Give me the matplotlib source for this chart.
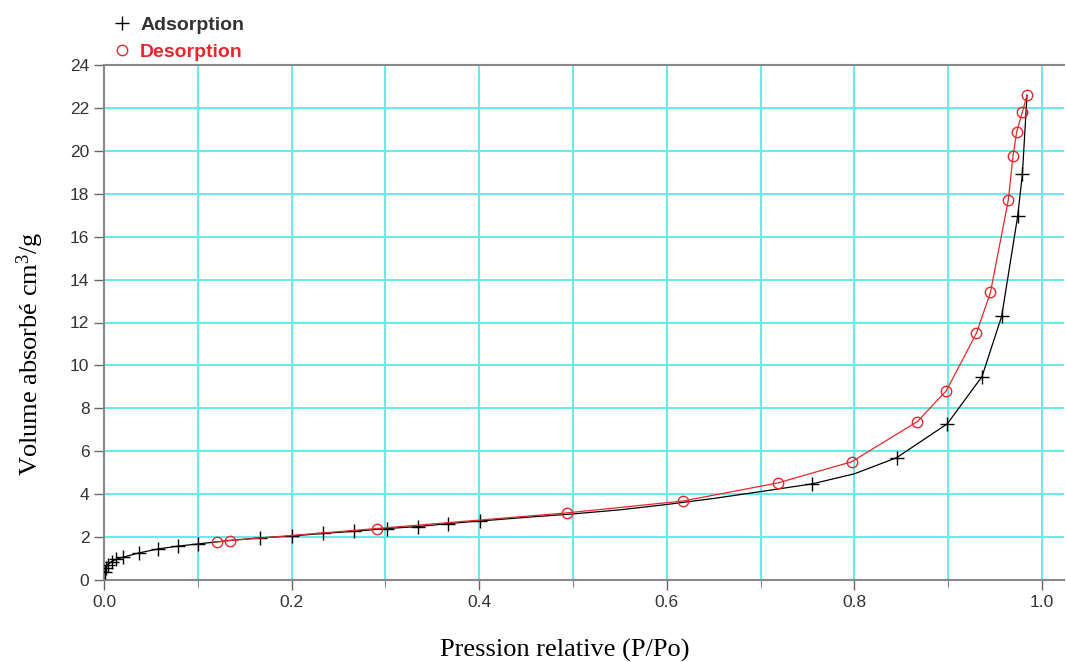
import matplotlib
matplotlib.use("Agg")
import matplotlib.pyplot as plt
from matplotlib.ticker import MultipleLocator

plt.rcParams["mathtext.fontset"] = "custom"
plt.rcParams["mathtext.rm"] = "Liberation Serif"
plt.rcParams["mathtext.it"] = "Liberation Serif:italic"
plt.rcParams["mathtext.bf"] = "Liberation Serif:bold"

# Adsorption branch (P/Po, volume cm3/g)
ads_p = [0.001, 0.002, 0.004, 0.008, 0.013, 0.020, 0.037, 0.058, 0.079, 0.100,
         0.133, 0.166, 0.200, 0.233, 0.267, 0.302, 0.335, 0.367, 0.401, 0.45,
         0.50, 0.55, 0.60, 0.65, 0.70, 0.755, 0.80, 0.845, 0.899, 0.936,
         0.957, 0.974, 0.979, 0.984]
ads_v = [0.35, 0.55, 0.72, 0.86, 0.96, 1.06, 1.26, 1.45, 1.58, 1.68,
         1.84, 1.96, 2.05, 2.17, 2.27, 2.40, 2.49, 2.63, 2.75, 2.92,
         3.08, 3.27, 3.52, 3.80, 4.12, 4.48, 4.95, 5.70, 7.28, 9.48,
         12.3, 16.95, 18.9, 22.6]
# indices of adsorption points drawn with a visible marker
ads_marked = [0, 1, 2, 3, 4, 5, 6, 7, 8, 9, 11, 12, 13, 14, 15, 16, 17, 18,
              25, 27, 28, 29, 30, 31, 32]

# Desorption branch
des_p = [0.120, 0.134, 0.291, 0.494, 0.617, 0.718, 0.797, 0.867, 0.898, 0.930,
         0.945, 0.964, 0.969, 0.973, 0.979, 0.984]
des_v = [1.77, 1.84, 2.40, 3.13, 3.68, 4.52, 5.51, 7.38, 8.82, 11.5,
         13.4, 17.7, 19.75, 20.9, 21.8, 22.6]

fig = plt.figure(figsize=(10.66, 6.62), dpi=100)
ax = fig.add_axes([104/1066, 82/662, 960/1066, 515/662])

grid_c = "#66eaea"
red = "#e8262c"
ax.plot(ads_p, ads_v, color="black", lw=0.9, marker="+", ms=10, mew=1.0,
        markevery=ads_marked, label="Adsorption", zorder=3)
ax.plot(des_p, des_v, color=red, lw=0.9, marker="o", ms=7.5, mfc="none",
        mec=red, mew=1.0, label="Desorption", zorder=4)

ax.set_xlim(0, 1.0234)
ax.set_ylim(0, 24)
ax.xaxis.set_major_locator(MultipleLocator(0.2))
ax.xaxis.set_minor_locator(MultipleLocator(0.1))
ax.yaxis.set_major_locator(MultipleLocator(2))
ax.grid(True, which="both", axis="x", color=grid_c, lw=1.4)
ax.grid(True, which="major", axis="y", color=grid_c, lw=1.4)
ax.set_axisbelow(True)

for s in ["left", "bottom", "top"]:
    ax.spines[s].set_color("#888888")
    ax.spines[s].set_linewidth(1.5)
ax.spines["right"].set_visible(False)

ax.tick_params(axis="both", which="major", length=7, color="#666666",
               labelsize=12.5, labelcolor="#333333", width=1)
ax.tick_params(axis="x", which="minor", length=5, color="#666666")
ax.set_xticks([0, 0.2, 0.4, 0.6, 0.8, 1.0])
ax.set_xticklabels(["0.0", "0.2", "0.4", "0.6", "0.8", "1.0"],
                   family="Liberation Sans")
for t in ax.get_yticklabels():
    t.set_family("Liberation Sans")

ax.set_xlabel("Pression relative (P/Po)", family="Liberation Serif",
              fontsize=19, va="center")
ax.xaxis.set_label_coords(0.48, -70/515)
ax.set_ylabel(r"Volume absorbé cm$^{\mathrm{3}}$/g", family="Liberation Serif",
              fontsize=19, va="center")
ax.yaxis.set_label_coords(-74/960, 0.44)

leg = fig.legend(*ax.get_legend_handles_labels(), loc="upper left",
                 bbox_to_anchor=(112/1066, 1 - 16/662), frameon=False,
                 prop={"family": "Liberation Sans", "size": 14, "weight": "bold"},
                 labelcolor=["#333333", red], handlelength=1.0,
                 handletextpad=0.45, borderaxespad=0.0, borderpad=0.0,
                 labelspacing=0.5)
for h in leg.legend_handles:
    h.set_linestyle("none")

fig.savefig("out.png", dpi=100)
